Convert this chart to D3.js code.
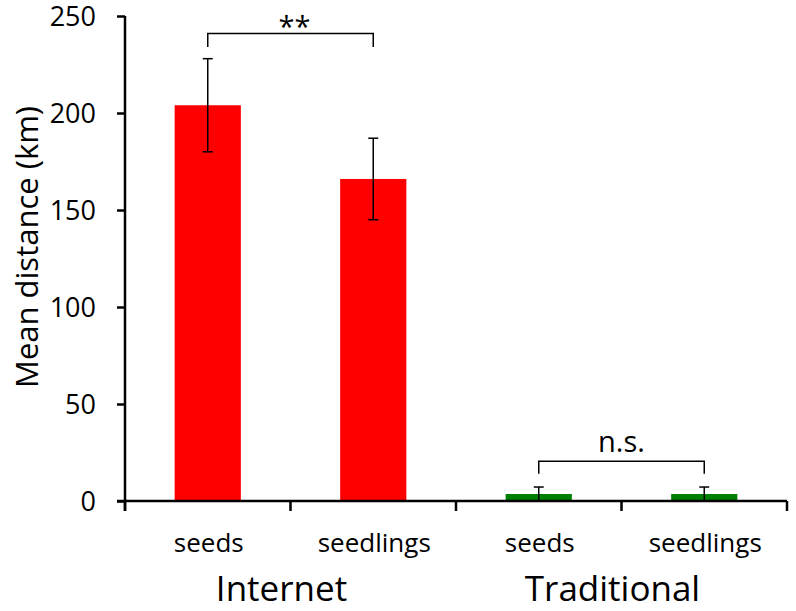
<!DOCTYPE html>
<html>
<head>
<meta charset="utf-8">
<script src="https://cdn.jsdelivr.net/npm/d3@7"></script>
<style>
  body { margin: 0; background: #fff; }
  text { font-family: "Open Sans", sans-serif; fill: #000; }
</style>
</head>
<body>
<script>
(function(){
  var width = 796, height = 611;

  var groups = ["Internet", "Traditional"];
  var categories = ["seeds", "seedlings", "seeds", "seedlings"];
  var means = [204, 166, 3.6, 3.6];
  var errors = [24, 21, 3.6, 3.6];
  var barColors = ["#ff0000", "#ff0000", "#008000", "#008000"];
  var yTicks = [0, 50, 100, 150, 200, 250];
  var brackets = [
    { from: 0, to: 1, level: 241, leg: 234, label: "**" },
    { from: 2, to: 3, level: 20.5, leg: 14, label: "n.s." }
  ];

  var left = 125, right = 787, top = 16, bottom = 501;

  var svg = d3.select("body").append("svg")
    .attr("width", width)
    .attr("height", height);

  var x = d3.scaleBand()
    .domain(d3.range(categories.length))
    .range([left, right])
    .paddingInner(0.6)
    .paddingOuter(0.3);

  var xBand = d3.scaleBand()
    .domain(d3.range(categories.length))
    .range([left, right]);

  var y = d3.scaleLinear().domain([0, 250]).range([bottom, top]);

  // bars
  svg.selectAll("rect.bar")
    .data(means)
    .enter().append("rect")
    .attr("class", "bar")
    .attr("x", (d, i) => x(i))
    .attr("width", x.bandwidth())
    .attr("y", d => y(d))
    .attr("height", d => y(0) - y(d))
    .attr("fill", (d, i) => barColors[i]);

  // error bars
  var cx = i => xBand(i) + xBand.bandwidth() / 2;
  means.forEach(function(m, i) {
    var g = svg.append("g").attr("stroke", "#000").attr("stroke-width", 1.5);
    var hi = y(m + errors[i]), lo = y(Math.max(0, m - errors[i]));
    g.append("line").attr("x1", cx(i)).attr("x2", cx(i)).attr("y1", hi).attr("y2", lo);
    g.append("line").attr("x1", cx(i) - 5).attr("x2", cx(i) + 5).attr("y1", hi).attr("y2", hi);
    g.append("line").attr("x1", cx(i) - 5).attr("x2", cx(i) + 5).attr("y1", lo).attr("y2", lo);
  });

  // y axis
  var yAxis = svg.append("g")
    .attr("transform", "translate(" + left + ",0)")
    .call(d3.axisLeft(y).tickValues(yTicks).tickSize(8).tickPadding(21));
  yAxis.select(".domain").attr("stroke-width", 2.5).attr("d", "M0," + top + "V" + (bottom + 10));
  yAxis.selectAll(".tick line").attr("stroke-width", 2.5);
  yAxis.selectAll(".tick text")
    .style("font-family", "'Open Sans', sans-serif")
    .style("font-size", "27px")
    .attr("dy", "0.36em");

  // x axis
  var xAxis = svg.append("g")
    .attr("transform", "translate(0," + bottom + ")");
  xAxis.append("line")
    .attr("x1", left - 8).attr("x2", right)
    .attr("stroke", "#000").attr("stroke-width", 2.5);
  xAxis.selectAll("line.tick")
    .data(d3.range(categories.length + 1))
    .enter().append("line")
    .attr("class", "tick")
    .attr("x1", i => left + i * xBand.bandwidth())
    .attr("x2", i => left + i * xBand.bandwidth())
    .attr("y1", 0).attr("y2", 10)
    .attr("stroke", "#000").attr("stroke-width", 2.5);

  svg.selectAll("text.cat")
    .data(categories)
    .enter().append("text")
    .attr("class", "cat")
    .attr("x", (d, i) => cx(i) + 1)
    .attr("y", 552)
    .attr("text-anchor", "middle")
    .style("font-size", "26px")
    .text(d => d);

  svg.selectAll("text.group")
    .data(groups)
    .enter().append("text")
    .attr("class", "group")
    .attr("x", (d, i) => left + (i * 2 + 1) * xBand.bandwidth() - 9)
    .attr("y", 601)
    .attr("text-anchor", "middle")
    .style("font-size", "35px")
    .text(d => d);

  // y title
  svg.append("text")
    .attr("transform", "translate(38,247) rotate(-90)")
    .attr("text-anchor", "middle")
    .style("font-size", "31px")
    .text("Mean distance (km)");

  // significance brackets
  brackets.forEach(function(b, k) {
    var x1 = cx(b.from), x2 = cx(b.to);
    svg.append("path")
      .attr("d", "M" + x1 + "," + y(b.leg) + "V" + y(b.level) + "H" + x2 + "V" + y(b.leg))
      .attr("fill", "none").attr("stroke", "#000").attr("stroke-width", 1.5);
    svg.append("text")
      .attr("x", (x1 + x2) / 2 + (k === 0 ? 4 : 0))
      .attr("y", k === 0 ? 37 : y(b.level) - 9)
      .attr("text-anchor", "middle")
      .style("font-size", "29px")
      .text(b.label);
  });
})();
</script>
</body>
</html>
